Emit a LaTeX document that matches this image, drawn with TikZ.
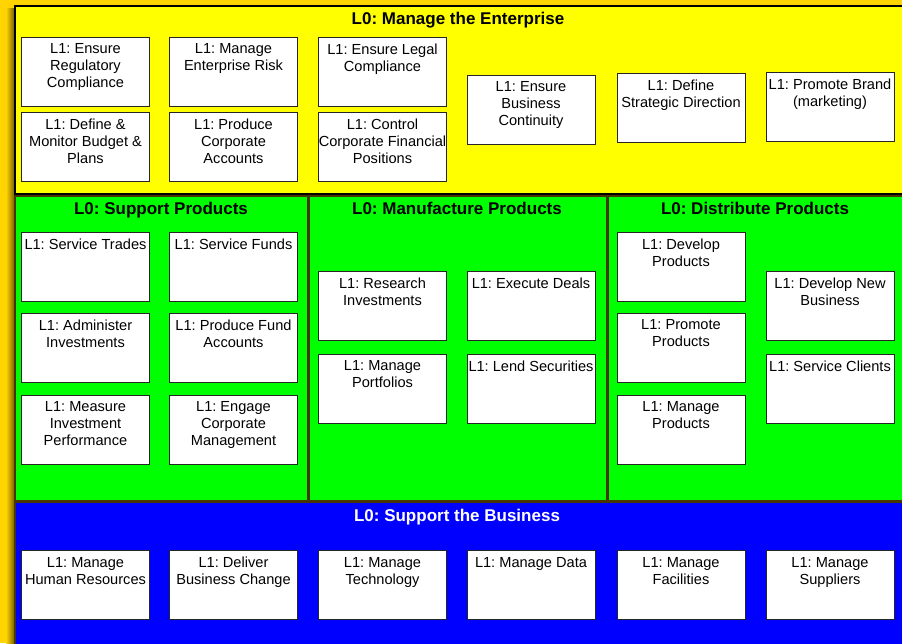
\documentclass[tikz,border=0pt]{standalone}
\usepackage{fontspec}
\setmainfont{Liberation Sans}
\frenchspacing
\definecolor{bggold}{RGB}{255,212,0}
\definecolor{shadowol}{RGB}{110,88,0}
\definecolor{panelline}{RGB}{70,55,0}
\definecolor{entyellow}{RGB}{255,255,0}
\definecolor{prodgreen}{RGB}{0,255,0}
\definecolor{bizblue}{RGB}{0,0,255}
\newcommand{\lonefont}{\fontsize{14.6}{17}\selectfont}
\newcommand{\lzerofont}{\fontsize{17}{20}\selectfont\bfseries}
\newcommand{\lonetext}[1]{\parbox[c][69pt][t]{128pt}{\centering\vspace*{6.5pt}#1}}

\begin{document}
\begin{tikzpicture}[x=1pt, y=-1pt,
    lone/.style={draw=black!85, line width=0.7pt, fill=white, inner sep=0pt, font=\lonefont},
    lzero/.style={font=\lzerofont, inner sep=0pt, anchor=base},
    panel/.style={draw=panelline, line width=1.5pt}]
    % page and gold background
    \useasboundingbox (0,0) rectangle (902,643);
    \clip (0,0) rectangle (902,643);
    \fill[bggold] (0,0) rectangle (902,643);
    \shade[left color=bggold, right color=shadowol] (6,8) rectangle (15,643);

    % L0 panels
    \filldraw[panel, draw=black, fill=entyellow] (15,6) rectangle (906,194);
    \filldraw[panel, fill=prodgreen] (15,196) rectangle (308,501);
    \filldraw[panel, fill=prodgreen] (309.5,196) rectangle (606.5,501);
    \filldraw[panel, fill=prodgreen] (608,196) rectangle (906,501);
    \filldraw[panel, fill=bizblue] (15,502.5) rectangle (906,650);

    % L0 titles
    \node[lzero] (ment) at (458,24.5) {L0: Manage the Enterprise};
    \node[lzero] (sprod) at (161,214.5) {L0: Support Products};
    \node[lzero] (mprod) at (457,214.5) {L0: Manufacture Products};
    \node[lzero] (dprod) at (755,214.5) {L0: Distribute Products};
    \node[lzero, text=white] (sbiz) at (457,521.5) {L0: Support the Business};

    % Manage the Enterprise
    \node[lone] (regcomp) at (85.5,71.5) {\lonetext{L1: Ensure\\Regulatory\\Compliance}};
    \node[lone] (entrisk) at (233.5,71.5) {\lonetext{L1: Manage\\Enterprise Risk}};
    \node[lone] (legcomp) at (382.5,71.5) {\lonetext{L1: Ensure Legal\\Compliance}};
    \node[lone] (budget) at (85.5,146.5) {\lonetext{L1: Define \&\\Monitor Budget \&\\Plans}};
    \node[lone] (corpacc) at (233.5,146.5) {\lonetext{L1: Produce\\Corporate\\Accounts}};
    \node[lone] (finpos) at (382.5,146.5) {\lonetext{L1: Control\\Corporate Financial\\Positions}};
    \node[lone] (contin) at (531,109.5) {\lonetext{L1: Ensure\\Business\\Continuity}};
    \node[lone] (strat) at (681,108) {\lonetext{L1: Define\\Strategic Direction}};
    \node[lone] (brand) at (830,107) {\lonetext{L1: Promote Brand\\(marketing)}};

    % Support Products
    \node[lone] (trades) at (85.5,266.5) {\lonetext{L1: Service Trades}};
    \node[lone] (funds) at (233.5,266.5) {\lonetext{L1: Service Funds}};
    \node[lone] (adminv) at (85.5,347.5) {\lonetext{L1: Administer\\Investments}};
    \node[lone] (fundacc) at (233.5,347.5) {\lonetext{L1: Produce Fund\\Accounts}};
    \node[lone] (perf) at (85.5,429.5) {\lonetext{L1: Measure\\Investment\\Performance}};
    \node[lone] (engage) at (233.5,429.5) {\lonetext{L1: Engage\\Corporate\\Management}};

    % Manufacture Products
    \node[lone] (research) at (382.5,305.5) {\lonetext{L1: Research\\Investments}};
    \node[lone] (deals) at (531,305.5) {\lonetext{L1: Execute Deals}};
    \node[lone] (portf) at (382.5,388.5) {\lonetext{L1: Manage\\Portfolios}};
    \node[lone] (lend) at (531,388.5) {\lonetext{L1: Lend Securities}};

    % Distribute Products
    \node[lone] (devprod) at (681,266.5) {\lonetext{L1: Develop\\Products}};
    \node[lone] (promprod) at (681,347.5) {\lonetext{L1: Promote\\Products}};
    \node[lone] (manprod) at (681,429.5) {\lonetext{L1: Manage\\Products}};
    \node[lone] (newbiz) at (830,305.5) {\lonetext{L1: Develop New\\Business}};
    \node[lone] (clients) at (830,388.5) {\lonetext{L1: Service Clients}};

    % Support the Business
    \foreach \nm/\x/\txt in {hres/85.5/{L1: Manage\\Human Resources},
        bchange/233.5/{L1: Deliver\\Business Change},
        tech/382.5/{L1: Manage\\Technology},
        data/531/{L1: Manage Data},
        facil/681/{L1: Manage\\Facilities},
        suppl/830/{L1: Manage\\Suppliers}}
      \node[lone] (\nm) at (\x,585) {\lonetext{\txt}};
\end{tikzpicture}
\end{document}
